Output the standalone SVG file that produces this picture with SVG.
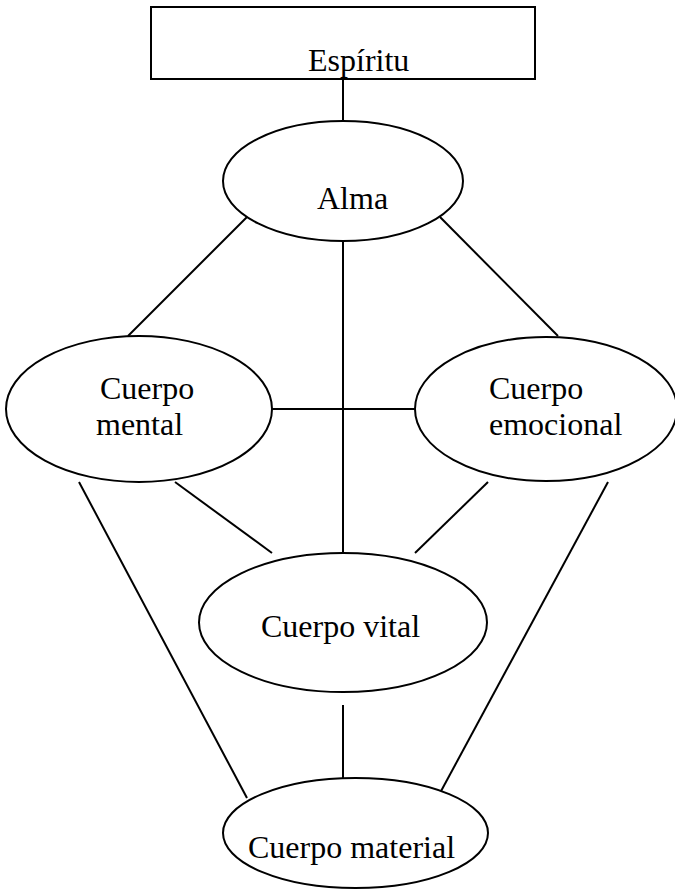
<svg xmlns="http://www.w3.org/2000/svg" width="675" height="893" viewBox="0 0 675 893">
<style>
.n{fill:#fff;stroke:#000;stroke-width:2}
.t{font-family:"Liberation Serif","Times New Roman",serif;font-size:32px;fill:#000}
.c line{stroke:#000;stroke-width:2}
</style>
<rect width="675" height="893" fill="#fff"/>
<g class="c" id="connectors">
<line x1="343" y1="79" x2="343" y2="121"/>
<line x1="247" y1="217" x2="128" y2="336"/>
<line x1="440" y1="217" x2="558" y2="336"/>
<line x1="343" y1="241" x2="343" y2="553"/>
<line x1="272" y1="409" x2="415" y2="409"/>
<line x1="175" y1="482" x2="272" y2="553"/>
<line x1="488" y1="482" x2="415" y2="553"/>
<line x1="79" y1="482" x2="247" y2="798"/>
<line x1="608" y1="482" x2="440" y2="793"/>
<line x1="343" y1="705" x2="343" y2="778"/>
</g>
<g id="espiritu">
<rect class="n" x="151" y="7" width="384" height="72"/>
<text class="t" x="308" y="71">Espíritu</text>
</g>
<g id="alma">
<ellipse class="n" cx="343" cy="181" rx="120" ry="60"/>
<text class="t" x="317" y="209">Alma</text>
</g>
<g id="mental">
<ellipse class="n" cx="139" cy="409" rx="133" ry="73"/>
<text class="t" x="100" y="399">Cuerpo</text>
<text class="t" x="96" y="435">mental</text>
</g>
<g id="emocional">
<ellipse class="n" cx="546" cy="409" rx="131" ry="72"/>
<text class="t" x="489" y="399">Cuerpo</text>
<text class="t" x="489" y="435">emocional</text>
</g>
<g id="vital">
<ellipse class="n" cx="343" cy="622.5" rx="144" ry="69.5"/>
<text class="t" x="261" y="637">Cuerpo vital</text>
</g>
<g id="material">
<ellipse class="n" cx="355.5" cy="833" rx="132.5" ry="55"/>
<text class="t" x="248" y="858">Cuerpo material</text>
</g>
</svg>
